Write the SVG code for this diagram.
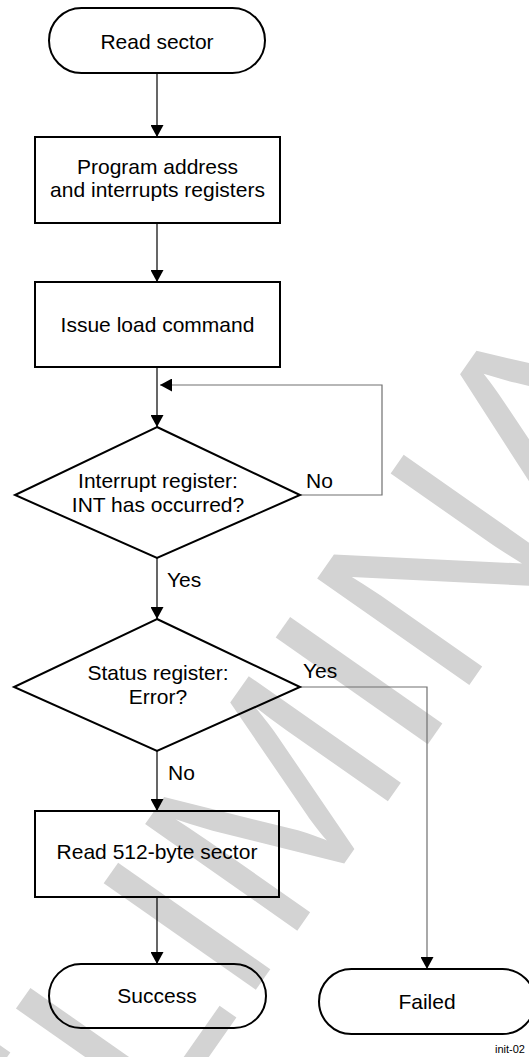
<svg xmlns="http://www.w3.org/2000/svg" width="529" height="1057" viewBox="0 0 529 1057">
<style>
.n{fill:none;stroke:#000;stroke-width:2}
.t{font-family:"Liberation Sans",Arial,sans-serif;font-size:21px;fill:#000;text-anchor:middle}
.l{font-family:"Liberation Sans",Arial,sans-serif;font-size:21px;fill:#000}
.c{fill:none;stroke:#000;stroke-width:1.2}
.g{fill:none;stroke:#707070;stroke-width:1.2}
.wm{font-family:"Liberation Sans",Arial,sans-serif;font-size:270px;fill:#d3d3d3}
</style>
<defs>
<marker id="ah" markerUnits="userSpaceOnUse" markerWidth="13" markerHeight="13" refX="12" refY="6.5" orient="auto">
<path d="M0,0 L12,6.5 L0,13 z" fill="#000"/>
</marker>
</defs>
<g id="watermark">
<text class="wm" transform="translate(-163,1588) rotate(-55)">PRELIMINARY</text>
</g>
<g id="connectors">
<path class="c" d="M157,73 V137" marker-end="url(#ah)"/>
<path class="c" d="M157,223 V282" marker-end="url(#ah)"/>
<path class="c" d="M157,367 V427" marker-end="url(#ah)"/>
<path class="g" d="M300,495 H382 V385 H160" marker-end="url(#ah)"/>
<path class="c" d="M157,558 V619" marker-end="url(#ah)"/>
<path class="g" d="M300,687 H427 V969" marker-end="url(#ah)"/>
<path class="c" d="M157,751 V811" marker-end="url(#ah)"/>
<path class="c" d="M157,897 V964" marker-end="url(#ah)"/>
<text class="l" x="306" y="488">No</text>
<text class="l" x="167" y="587">Yes</text>
<text class="l" x="303" y="678">Yes</text>
<text class="l" x="168" y="780">No</text>
</g>
<g id="start">
<rect class="n" x="49" y="8" width="216" height="65" rx="32.5"/>
<text class="t" x="157" y="49">Read sector</text>
</g>
<g id="program">
<rect class="n" x="35" y="137" width="245" height="86"/>
<text class="t" x="157.5" y="174">Program address</text>
<text class="t" x="157.5" y="197">and interrupts registers</text>
</g>
<g id="issue">
<rect class="n" x="35" y="282" width="245" height="85"/>
<text class="t" x="157.5" y="332">Issue load command</text>
</g>
<g id="intcheck">
<polygon class="n" points="157,427 300,495 157,558 15,495"/>
<text class="t" x="158" y="488">Interrupt register:</text>
<text class="t" x="158" y="512">INT has occurred?</text>
</g>
<g id="statuscheck">
<polygon class="n" points="157,619 300,687 157,751 14,687"/>
<text class="t" x="158" y="680">Status register:</text>
<text class="t" x="158" y="704">Error?</text>
</g>
<g id="readsector">
<rect class="n" x="35" y="811" width="244" height="86"/>
<text class="t" x="157" y="859">Read 512-byte sector</text>
</g>
<g id="success">
<rect class="n" x="49" y="964" width="217" height="64" rx="32"/>
<text class="t" x="157" y="1003">Success</text>
</g>
<g id="failed">
<rect class="n" x="319" y="969" width="216" height="65" rx="32.5"/>
<text class="t" x="427" y="1009">Failed</text>
</g>
<text x="495" y="1053" font-family="Liberation Sans, Arial, sans-serif" font-size="11" fill="#000">init-02</text>
</svg>
